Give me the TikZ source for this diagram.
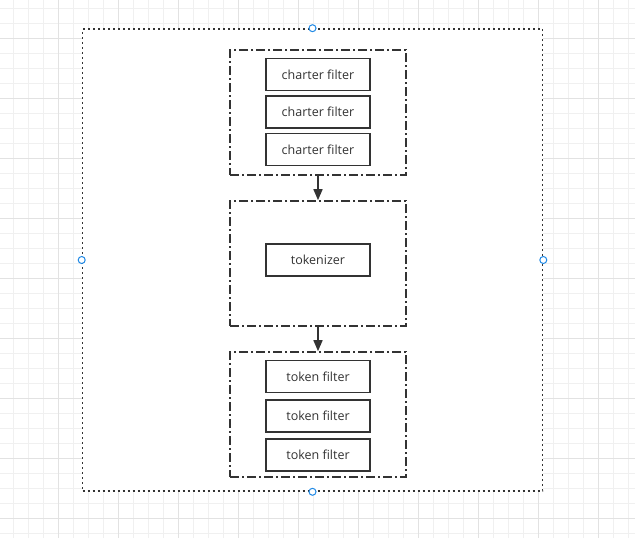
\documentclass[tikz,border=0pt]{standalone}
\usepackage{fontspec}
\setmainfont{Open Sans}
\usetikzlibrary{arrows.meta}

\definecolor{ink}{HTML}{333333}
\definecolor{gridminor}{HTML}{F0F0F0}
\definecolor{gridmajor}{HTML}{E2E2E2}
\definecolor{handle}{HTML}{1E88E5}

\begin{document}
\begin{tikzpicture}[x=1pt,y=-1pt,
  filterbox/.style={rectangle,draw=ink,line width=1.5pt,minimum width=104pt,minimum height=32pt,inner sep=0pt,
    text=ink,font=\fontsize{12.5}{14}\selectfont},
  groupbox/.style={rectangle,draw=ink,line width=1.6pt,minimum width=176pt,minimum height=125pt,inner sep=0pt,
    dash pattern=on 9pt off 3pt on 2pt off 3pt},
  handledot/.style={circle,draw=handle,fill=white,line width=1pt,minimum size=7pt,inner sep=0pt}]
\useasboundingbox (0,0) rectangle (635,538);
% grid
\foreach \g in {0,...,42} {
  \draw[gridminor,line width=0.8pt] (13.3+15*\g,0) -- (13.3+15*\g,538);
}
\foreach \g in {0,...,36} {
  \draw[gridminor,line width=0.8pt] (0,8.3+15*\g) -- (635,8.3+15*\g);
}
\foreach \g in {0,...,10} {
  \draw[gridmajor,line width=0.8pt] (58.3+60*\g,0) -- (58.3+60*\g,538);
  \draw[gridmajor,line width=0.8pt] (0,38.3+60*\g) -- (635,38.3+60*\g);
}

% outer frame
\path (312.5,260) node[rectangle,draw=ink,fill=white,line width=1.6pt,dash pattern=on 2pt off 3pt,
  minimum width=460pt,minimum height=462pt,inner sep=0pt] (frame){};

% groups
\path (318,112.5) node[groupbox] (chars){};
\path (318,263.5) node[groupbox] (tok){};
\path (318,414.5) node[groupbox] (toks){};

\path (318,74.5) node[filterbox] (cf1){charter filter};
\path (318,112) node[filterbox] (cf2){charter filter};
\path (318,149.5) node[filterbox] (cf3){charter filter};

\path (318,260) node[filterbox] (tkz){tokenizer};

\path (318,376.7) node[filterbox] (tf1){token filter};
\path (318,416) node[filterbox] (tf2){token filter};
\path (318,455) node[filterbox] (tf3){token filter};

\draw[ink,line width=1.5pt,-{Triangle[length=11pt,width=9pt]}] (chars) -- (tok);
\draw[ink,line width=1.5pt,-{Triangle[length=11pt,width=9pt]}] (tok) -- (toks);

% selection handles
\path (frame.north) node[handledot] (hn){};
\path (frame.south) node[handledot] (hs){};
\path (frame.west) node[handledot] (hw){};
\path (frame.east) node[handledot] (he){};
\end{tikzpicture}
\end{document}
